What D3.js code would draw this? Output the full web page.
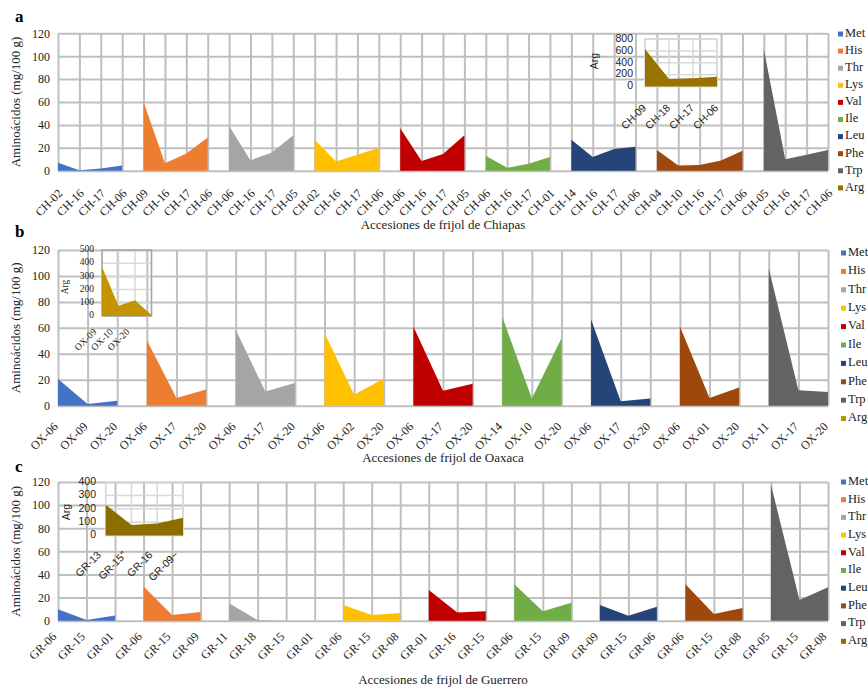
<!DOCTYPE html>
<html>
<head>
<meta charset="utf-8">
<script src="https://cdn.jsdelivr.net/npm/d3@7"></script>
<style>
  body { margin: 0; background: #fff; }
  svg { display: block; }
</style>
</head>
<body>
<svg id="chart" width="868" height="687"></svg>
<script>
// ---- data -------------------------------------------------------------
const aminoAcids = ["Met", "His", "Thr", "Lys", "Val", "Ile", "Leu", "Phe", "Trp", "Arg"];
const seriesColors = ["#4472C4", "#ED7D31", "#A5A5A5", "#FFC000", "#C00000", "#70AD47", "#264478", "#9E480E", "#636363"];
const yTicks = [0, 20, 40, 60, 80, 100, 120];

// Chiapas accessions (each amino acid occupies consecutive categories, in order)
const chiapasCategories = ["CH-02","CH-16","CH-17","CH-06","CH-09","CH-16","CH-17","CH-06","CH-06","CH-16","CH-17","CH-05",
  "CH-02","CH-16","CH-17","CH-06","CH-06","CH-16","CH-17","CH-05","CH-06","CH-16","CH-17","CH-01","CH-14","CH-16","CH-17","CH-06",
  "CH-04","CH-10","CH-16","CH-17","CH-06","CH-05","CH-16","CH-17","CH-06"];
const chiapasMet = [7, 0.5, 2, 4.5];
const chiapasHis = [60, 6.5, 15, 29];
const chiapasThr = [39, 9, 16, 31];
const chiapasLys = [27, 8, 14, 20];
const chiapasVal = [37, 8.5, 14.5, 31];
const chiapasIle = [13, 2.5, 6, 12];
const chiapasLeu = [27, 12, 19, 21];
const chiapasPhe = [18, 4.5, 5, 9, 17.5];
const chiapasTrp = [106, 10, 14, 18];
const chiapasArgCategories = ["CH-09", "CH-18", "CH-17", "CH-06"];
const chiapasArg = [630, 125, 138, 165];
const chiapasArgTicks = [0, 200, 400, 600, 800];

// Oaxaca accessions
const oaxacaCategories = ["OX-06","OX-09","OX-20","OX-06","OX-17","OX-20","OX-06","OX-17","OX-20","OX-06","OX-02","OX-20",
  "OX-06","OX-17","OX-20","OX-14","OX-10","OX-20","OX-06","OX-17","OX-20","OX-06","OX-01","OX-20","OX-11","OX-17","OX-20"];
const oaxacaMet = [20.5, 1.3, 3.9];
const oaxacaHis = [50.5, 6, 12.5];
const oaxacaThr = [58.5, 11, 17.5];
const oaxacaLys = [56, 8.5, 21];
const oaxacaVal = [61, 11.5, 17];
const oaxacaIle = [68.5, 5.5, 52];
const oaxacaLeu = [66.5, 3.5, 5.5];
const oaxacaPhe = [61, 6, 14];
const oaxacaTrp = [106, 12, 10.5];
const oaxacaArgCategories = ["OX-09", "OX-10", "OX-20", ""];
const oaxacaArg = [372, 78, 120, 8];
const oaxacaArgTicks = [0, 100, 200, 300, 400, 500];

// Guerrero accessions
const guerreroCategories = ["GR-06","GR-15","GR-01","GR-06","GR-15","GR-09","GR-11","GR-18","GR-15","GR-01","GR-06","GR-15","GR-08",
  "GR-01","GR-16","GR-15","GR-06","GR-15","GR-09","GR-09","GR-15","GR-06","GR-06","GR-15","GR-08","GR-05","GR-15","GR-08"];
const guerreroMet = [10, 0.6, 4.6];
const guerreroHis = [29.5, 5, 7.5];
const guerreroThr = [15, 0.5, 0, 0];
const guerreroLys = [13.6, 5, 6.7];
const guerreroVal = [26.6, 7.2, 8.1];
const guerreroIle = [31.5, 8.1, 15.6];
const guerreroLeu = [13.6, 4.3, 12.1];
const guerreroPhe = [31.5, 5.8, 11];
const guerreroTrp = [117.7, 18, 29];
const guerreroArgCategories = ["GR-13", "GR-15''", "GR-16", "GR-09~"];
const guerreroArg = [230, 78, 90, 132];
const guerreroArgTicks = [0, 100, 200, 300, 400];

// ---- layout -------------------------------------------------------------
const SERIF = "'Liberation Serif', 'Times New Roman', serif";
const SANS = "'Liberation Sans', Arial, sans-serif";
const GRID = "#BFBFBF";
const PLOT_LEFT = 58, PLOT_RIGHT = 828;

const panels = [
  {
    letter: "a", letterY: 22, top: 33.3, zero: 170.7,
    categories: chiapasCategories,
    series: [chiapasMet, chiapasHis, chiapasThr, chiapasLys, chiapasVal, chiapasIle, chiapasLeu, chiapasPhe, chiapasTrp],
    title: "Accesiones de frijol de Chiapas", titleY: 226,
    labelOffset: [4.8, 23.2],
    legend: { x: 838, y0: 34, step: 17.1, argColor: "#997300" },
    inset: {
      categories: chiapasArgCategories, values: chiapasArg, ticks: chiapasArgTicks, color: "#997300",
      x0: 645, x1: 717, top: 39, zero: 86.5, font: SANS, size: 10.5,
      tickRight: 633, argX: 595, argY: 61, labelOffset: [2, 22], border: "#D9D9D9"
    }
  },
  {
    letter: "b", letterY: 237, top: 250, zero: 405.7,
    categories: oaxacaCategories,
    series: [oaxacaMet, oaxacaHis, oaxacaThr, oaxacaLys, oaxacaVal, oaxacaIle, oaxacaLeu, oaxacaPhe, oaxacaTrp],
    title: "Accesiones de frijol de Oaxaca", titleY: 459,
    labelOffset: [0.3, 21.6],
    legend: { x: 841, y0: 253, step: 18.4, argColor: "#BF9000" },
    inset: {
      categories: oaxacaArgCategories, values: oaxacaArg, ticks: oaxacaArgTicks, color: "#C29400",
      x0: 102, x1: 151.5, top: 250, zero: 316, font: SERIF, size: 9.5,
      tickRight: 94, argX: 65.5, argY: 287, labelOffset: [-5, 16.5], border: "#A6A6A6"
    }
  },
  {
    letter: "c", letterY: 472, top: 482, zero: 620.7,
    categories: guerreroCategories,
    series: [guerreroMet, guerreroHis, guerreroThr, guerreroLys, guerreroVal, guerreroIle, guerreroLeu, guerreroPhe, guerreroTrp],
    title: "Accesiones de frijol de Guerrero", titleY: 681,
    labelOffset: [-1.3, 16.6],
    legend: { x: 841, y0: 482, step: 17.7, argColor: "#8C6D00" },
    inset: {
      categories: guerreroArgCategories, values: guerreroArg, ticks: guerreroArgTicks, color: "#8C6D00",
      x0: 105.7, x1: 183, top: 482, zero: 535.5, font: SANS, size: 10.5,
      tickRight: 96, argX: 67, argY: 512, labelOffset: [-4, 20], border: "#D9D9D9"
    }
  }
];

const svg = d3.select("#chart");

function drawPanel(p) {
  const g = svg.append("g");
  const idx = d3.range(p.categories.length);
  const x = d3.scalePoint().domain(idx).range([PLOT_LEFT, PLOT_RIGHT]).padding(0);
  const y = d3.scaleLinear().domain([0, 120]).range([p.zero, p.top]);
  const h = p.zero - p.top;

  // vertical gridlines + rotated category labels
  const xAxis = g.append("g")
    .attr("transform", `translate(0,${p.zero})`)
    .call(d3.axisBottom(x).tickSize(-h).tickFormat(i => p.categories[i]));
  xAxis.select(".domain").remove();
  xAxis.selectAll("line").attr("stroke", GRID).attr("stroke-width", 2);
  xAxis.selectAll("text")
    .attr("x", 0).attr("y", 0).attr("dy", 0)
    .attr("text-anchor", "end")
    .attr("transform", `translate(${p.labelOffset[0]},${p.labelOffset[1]}) rotate(-45)`)
    .attr("font-family", SERIF).attr("font-size", 12).attr("fill", "#222");

  // horizontal gridlines + value labels
  const yAxis = g.append("g")
    .attr("transform", `translate(${PLOT_LEFT},0)`)
    .call(d3.axisLeft(y).tickValues(yTicks).tickSize(-(PLOT_RIGHT - PLOT_LEFT)).tickPadding(8));
  yAxis.select(".domain").remove();
  yAxis.selectAll("line").attr("stroke", GRID).attr("stroke-width", 2);
  yAxis.selectAll("text").attr("font-family", SERIF).attr("font-size", 12).attr("fill", "#222");

  // areas, one per amino acid
  const area = d3.area().x(d => x(d.i)).y0(y(0)).y1(d => y(d.v));
  let offset = 0;
  p.series.forEach((vals, k) => {
    const pts = vals.map((v, j) => ({ i: offset + j, v }));
    offset += vals.length;
    g.append("path").datum(pts).attr("d", area).attr("fill", seriesColors[k]);
  });

  // titles
  g.append("text").text(p.letter)
    .attr("x", 15).attr("y", p.letterY)
    .attr("font-family", SERIF).attr("font-weight", "bold").attr("font-size", 17).attr("fill", "#000");
  g.append("text").text("Aminoácidos (mg/100 g)")
    .attr("transform", `translate(20,${(p.top + p.zero) / 2}) rotate(-90)`)
    .attr("text-anchor", "middle")
    .attr("font-family", SERIF).attr("font-size", 13).attr("fill", "#222");
  g.append("text").text(p.title)
    .attr("x", (PLOT_LEFT + PLOT_RIGHT) / 2).attr("y", p.titleY)
    .attr("text-anchor", "middle").attr("dominant-baseline", "middle")
    .attr("font-family", SERIF).attr("font-size", 13).attr("fill", "#222");

  // legend
  const lg = g.append("g");
  aminoAcids.forEach((name, k) => {
    const yy = p.legend.y0 + k * p.legend.step;
    lg.append("rect")
      .attr("x", p.legend.x).attr("y", yy - 2.5).attr("width", 5).attr("height", 5)
      .attr("fill", k < seriesColors.length ? seriesColors[k] : p.legend.argColor);
    lg.append("text").text(name)
      .attr("x", p.legend.x + 7).attr("y", yy).attr("dominant-baseline", "middle")
      .attr("font-family", SERIF).attr("font-size", 12.5).attr("fill", "#222");
  });

  drawInset(g, p.inset);
}

function drawInset(parent, s) {
  const g = parent.append("g");
  const idx = d3.range(s.categories.length);
  const x = d3.scalePoint().domain(idx).range([s.x0, s.x1]).padding(0);
  const y = d3.scaleLinear().domain([0, d3.max(s.ticks)]).range([s.zero, s.top]);

  g.append("g").selectAll("line").data(s.ticks).join("line")
    .attr("x1", s.x0).attr("x2", s.x1).attr("y1", d => y(d)).attr("y2", d => y(d))
    .attr("stroke", "#D9D9D9").attr("stroke-width", 1.5);
  g.append("g").selectAll("line").data(idx).join("line")
    .attr("x1", d => x(d)).attr("x2", d => x(d)).attr("y1", s.top).attr("y2", s.zero)
    .attr("stroke", "#D9D9D9").attr("stroke-width", 1.5);
  g.append("rect")
    .attr("x", s.x0).attr("y", s.top).attr("width", s.x1 - s.x0).attr("height", s.zero - s.top)
    .attr("fill", "none").attr("stroke", s.border).attr("stroke-width", 1.5);

  const area = d3.area().x((d, i) => x(i)).y0(y(0)).y1(d => y(d));
  g.append("path").datum(s.values).attr("d", area).attr("fill", s.color);

  g.append("g").selectAll("text").data(s.ticks).join("text")
    .text(d => d)
    .attr("x", s.tickRight).attr("y", d => y(d))
    .attr("text-anchor", "end").attr("dominant-baseline", "middle")
    .attr("font-family", s.font).attr("font-size", s.size).attr("fill", "#222");
  g.append("g").selectAll("text").data(idx).join("text")
    .text(i => s.categories[i])
    .attr("text-anchor", "end")
    .attr("transform", i => `translate(${x(i) + s.labelOffset[0]},${s.zero + s.labelOffset[1]}) rotate(-45)`)
    .attr("font-family", s.font).attr("font-size", s.size).attr("fill", "#222");
  g.append("text").text("Arg")
    .attr("transform", `translate(${s.argX},${s.argY}) rotate(-90)`)
    .attr("text-anchor", "middle").attr("dominant-baseline", "middle")
    .attr("font-family", s.font).attr("font-size", s.size).attr("fill", "#222");
}

panels.forEach(drawPanel);
</script>
</body>
</html>
